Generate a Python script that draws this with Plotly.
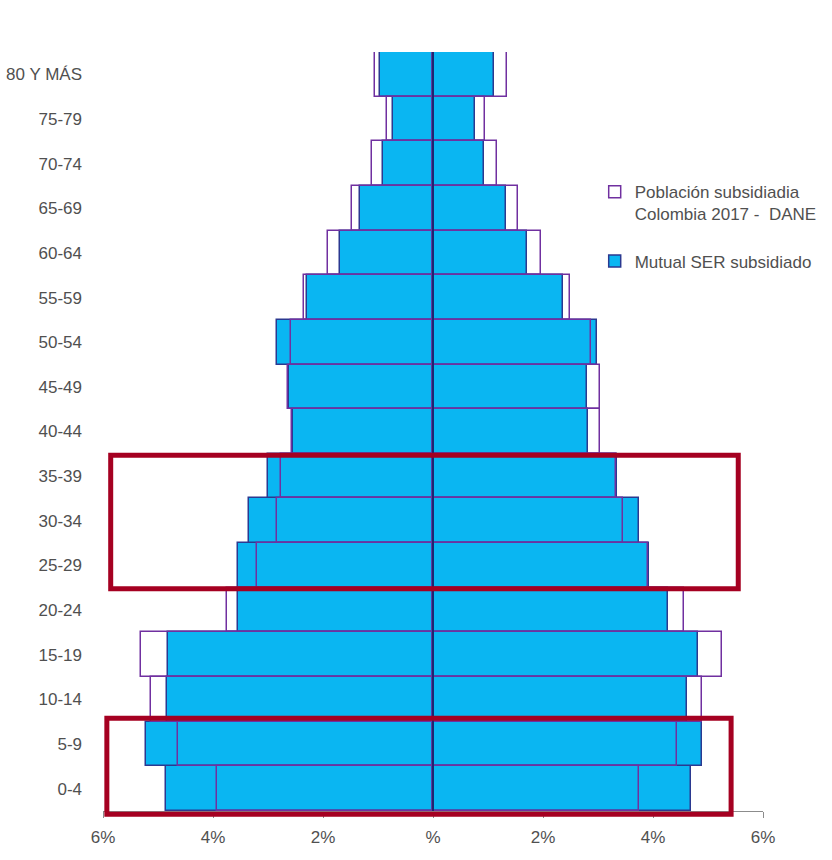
import plotly.graph_objects as go

# Age groups, bottom to top
age_groups = ["0-4", "5-9", "10-14", "15-19", "20-24", "25-29", "30-34", "35-39",
              "40-44", "45-49", "50-54", "55-59", "60-64", "65-69", "70-74",
              "75-79", "80 Y MÁS"]

# Mutual SER subsidiado (% of population), left and right halves
ser_left = [4.85, 5.22, 4.84, 4.82, 3.55, 3.55, 3.35, 3.00, 2.55, 2.62, 2.84,
            2.29, 1.69, 1.33, 0.91, 0.73, 0.96]
ser_right = [4.69, 4.89, 4.61, 4.82, 4.27, 3.92, 3.75, 3.35, 2.82, 2.80, 2.98,
             2.36, 1.71, 1.33, 0.93, 0.76, 1.11]

# Población subsidiada Colombia 2017 - DANE (% of population)
dane_left = [3.93, 4.64, 5.13, 5.31, 3.75, 3.20, 2.84, 2.76, 2.56, 2.63, 2.58,
             2.35, 1.91, 1.47, 1.11, 0.84, 1.05]
dane_right = [3.75, 4.44, 4.89, 5.25, 4.56, 3.90, 3.45, 3.32, 3.04, 3.04, 2.87,
              2.49, 1.96, 1.55, 1.16, 0.95, 1.35]

x_ticks = [-6, -4, -2, 0, 2, 4, 6]
x_tick_text = ["6%", "4%", "2%", "%", "2%", "4%", "6%"]

# Highlight frames: (first row, last row, left x, right x, bottom pad, top pad)
highlight_frames = [
    (5, 7, -5.86, 5.55, 0.02, -0.03),
    (0, 1, -5.93, 5.42, 0.07, 0.08),
]

FONT = "Liberation Sans, Arial, sans-serif"
TEXT_COLOR = "#505050"
SER_FILL = "#0AB6F2"
SER_EDGE = "#2B3990"
DANE_EDGE = "#7030A0"
AXIS_NAVY = "#1F2670"
HIGHLIGHT = "#A50021"

X_RANGE = [-6, 6]
y_pos = list(range(len(age_groups)))
y_range = [-0.5, len(age_groups) - 0.5]


def x_frac(v):
    return (v - X_RANGE[0]) / (X_RANGE[1] - X_RANGE[0])


def y_frac(v):
    return (v - y_range[0]) / (y_range[1] - y_range[0])


fig = go.Figure()

fig.add_trace(go.Bar(
    y=y_pos, x=[-v for v in ser_left], orientation="h", width=1,
    marker=dict(color=SER_FILL, line=dict(color=SER_EDGE, width=1.5)),
    name="Mutual SER subsidiado", legendgroup="ser", legendrank=2,
    showlegend=True,
))
fig.add_trace(go.Bar(
    y=y_pos, x=ser_right, orientation="h", width=1,
    marker=dict(color=SER_FILL, line=dict(color=SER_EDGE, width=1.5)),
    name="Mutual SER subsidiado", legendgroup="ser", showlegend=False,
))
fig.add_trace(go.Bar(
    y=y_pos, x=[-v for v in dane_left], orientation="h", width=1,
    marker=dict(color="rgba(0,0,0,0)", line=dict(color=DANE_EDGE, width=1.5)),
    name="Población subsidiadia<br>Colombia 2017 -  DANE", legendgroup="dane",
    legendrank=1, showlegend=True,
))
fig.add_trace(go.Bar(
    y=y_pos, x=dane_right, orientation="h", width=1,
    marker=dict(color="rgba(0,0,0,0)", line=dict(color=DANE_EDGE, width=1.5)),
    name="Población subsidiadia<br>Colombia 2017 -  DANE", legendgroup="dane",
    showlegend=False,
))

# Vertical axis line at 0 %, drawn over the bars
fig.add_shape(
    type="line", xref="x domain", yref="y domain",
    x0=x_frac(0), x1=x_frac(0), y0=0, y1=1,
    line=dict(color=AXIS_NAVY, width=2), layer="above",
)

# Red highlight frames around selected age bands
for lo, hi, xl, xr, pad_lo, pad_hi in highlight_frames:
    fig.add_shape(
        type="rect", xref="x domain", yref="y domain",
        x0=x_frac(xl), x1=x_frac(xr),
        y0=y_frac(lo - 0.5 - pad_lo), y1=y_frac(hi + 0.5 + pad_hi),
        line=dict(color=HIGHLIGHT, width=5), fillcolor="rgba(0,0,0,0)",
        layer="above",
    )

fig.update_layout(
    width=832, height=860,
    margin=dict(l=103, r=69, t=52, b=49, autoexpand=False),
    paper_bgcolor="white", plot_bgcolor="white",
    barmode="overlay", bargap=0,
    font=dict(family=FONT, size=17, color=TEXT_COLOR),
    xaxis=dict(
        range=X_RANGE, tickvals=x_ticks, ticktext=x_tick_text,
        showgrid=False, zeroline=False,
        showline=True, linecolor="#8c8c8c", linewidth=1,
        ticks="outside", ticklen=6, tickcolor="#8c8c8c",
        ticklabelstandoff=5,
        tickfont=dict(size=17, color=TEXT_COLOR),
        fixedrange=True,
    ),
    yaxis=dict(
        range=y_range, tickvals=y_pos, ticktext=age_groups,
        showgrid=False, zeroline=False, showline=False, ticks="",
        ticklabelstandoff=20,
        tickfont=dict(size=17, color=TEXT_COLOR),
        fixedrange=True,
    ),
    yaxis2=dict(
        overlaying="y", matches="y", anchor="free", position=0.5, side="right",
        range=y_range, tickvals=y_pos, showticklabels=False,
        showgrid=False, zeroline=False, showline=False,
        ticks="outside", ticklen=4, tickcolor=AXIS_NAVY,
        layer="above traces",
    ),
    legend=dict(
        x=0.745, y=0.839, xanchor="left", yanchor="top",
        bgcolor="rgba(0,0,0,0)", valign="top",
        traceorder="grouped", tracegroupgap=22,
        font=dict(family=FONT, size=17, color=TEXT_COLOR),
    ),
    showlegend=True,
)

fig.write_html("out.html")
